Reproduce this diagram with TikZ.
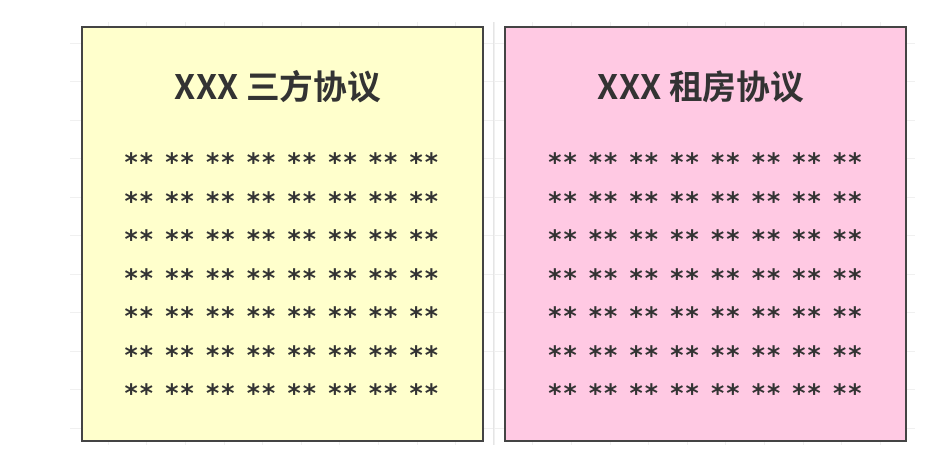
\documentclass[tikz,border=0pt]{standalone}
\usepackage{fontspec}
\newfontfamily\cjk{Noto Sans CJK SC}[BoldFont={Noto Sans CJK SC Bold}]
\newfontfamily\starfont{DejaVu Sans Mono Bold}
\definecolor{textgray}{HTML}{333333}
\definecolor{edgegray}{HTML}{444444}
\definecolor{paleyellow}{HTML}{FFFFCC}
\definecolor{palepink}{HTML}{FFC9E3}
\definecolor{gridgray}{HTML}{F0F0F0}

\begin{document}
\begin{tikzpicture}[x=0.75pt, y=-0.75pt,
    card/.style={draw=edgegray, line width=1.5pt, minimum width=300.75pt, minimum height=310.5pt, inner sep=0pt},
    cardtitle/.style={text=textgray, font=\cjk\bfseries\fontsize{25.3}{29}\selectfont},
    stars/.style={text=textgray, font=\starfont\fontsize{19}{22}\selectfont, anchor=base, inner sep=0pt}]

    \useasboundingbox (0,0) rectangle (940,465);

    % Hintergrundraster
    \begin{scope}
        \clip (70,22) rectangle (915,445);
        \foreach \x in {0,...,21} \draw[gridgray, line width=0.6pt] (69.6+38.6*\x,22) -- (69.6+38.6*\x,445);
        \foreach \y in {0,...,11} \draw[gridgray, line width=0.6pt] (70,4.7+38.5*\y) -- (915,4.7+38.5*\y);
    \end{scope}
    \draw[gray!20, line width=0.8pt] (493.5,22) -- (493.5,445);

    % Karten
    \node[card, fill=paleyellow] (sanfang) at (282.5,233.5) {};
    \node[card, fill=palepink] (zufang) at (705.5,233.5) {};

    % Titel
    \node[cardtitle] (sanfangtitel) at (278,87) {XXX 三方协议};
    \node[cardtitle] (zufangtitel) at (701,87) {XXX 租房协议};

    % Platzhalter
    \foreach \i in {0,...,6} {
        \foreach \j in {0,...,7} {
            \node[stars] (sanfang-\i-\j) at (139+40.7*\j,158+38.5*\i+13.5) {**};
            \node[stars] (zufang-\i-\j) at (562.5+40.7*\j,158+38.5*\i+13.5) {**};
        }
    }
\end{tikzpicture}
\end{document}
